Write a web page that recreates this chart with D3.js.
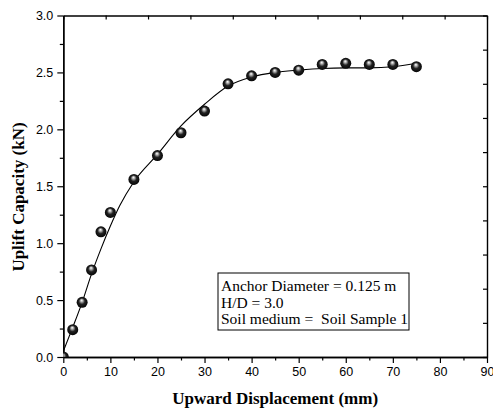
<!DOCTYPE html>
<html><head><meta charset="utf-8">
<script src="https://cdn.jsdelivr.net/npm/d3@7"></script>
<style>body{margin:0;background:#fff}svg{display:block}</style>
</head><body>
<svg id="c" width="493" height="412"></svg>
<script>
// measured data points
const dispX = [0, 2, 4, 6, 8, 10, 15, 20, 25, 30, 35, 40, 45, 50, 55, 60, 65, 70, 75];
const capY  = [0.00, 0.24, 0.48, 0.765, 1.10, 1.27, 1.56, 1.77, 1.97, 2.16, 2.40, 2.47, 2.50, 2.52, 2.57, 2.58, 2.57, 2.57, 2.55];
// fitted curve
const fitX = [0, 2, 4, 6, 8, 10, 12, 15, 20, 25, 30, 35, 40, 45, 50, 55, 60, 65, 70, 75];
const fitY = [0.05, 0.26, 0.48, 0.73, 0.95, 1.15, 1.33, 1.54, 1.78, 2.03, 2.22, 2.38, 2.46, 2.50, 2.52, 2.535, 2.54, 2.54, 2.55, 2.58];
const xTicks = [0, 10, 20, 30, 40, 50, 60, 70, 80, 90];
const yTicks = [0.0, 0.5, 1.0, 1.5, 2.0, 2.5, 3.0];
const legendLines = ["Anchor Diameter = 0.125 m", "H/D = 3.0", "Soil medium =  Soil Sample 1"];
const xTitle = "Upward Displacement (mm)";
const yTitle = "Uplift Capacity (kN)";

const svg = d3.select("#c");
const L = 63.3, R = 487, T = 15.5, B = 357;
const x = d3.scaleLinear().domain([0, 90]).range([L, R]);
const y = d3.scaleLinear().domain([0, 3]).range([B, T]);

const defs = svg.append("defs");
const g = defs.append("radialGradient").attr("id", "ball").attr("cx", "50%").attr("cy", "50%").attr("r", "55%")
  .attr("fx", "45%").attr("fy", "30%");
g.append("stop").attr("offset", "0%").attr("stop-color", "#ffffff");
g.append("stop").attr("offset", "18%").attr("stop-color", "#bdbdbd");
g.append("stop").attr("offset", "50%").attr("stop-color", "#222");
g.append("stop").attr("offset", "100%").attr("stop-color", "#000");
defs.append("clipPath").attr("id", "clip").append("rect")
  .attr("x", L).attr("y", T).attr("width", R - L).attr("height", B - T);

const tickFont = "'Liberation Sans', Arial, sans-serif";
const serif = "'Liberation Serif', 'Times New Roman', serif";

// bottom axis
const xAxis = d3.axisBottom(x).tickValues(xTicks).tickFormat(d3.format("d")).tickSizeOuter(0).tickSizeInner(6).tickPadding(4);
const gx = svg.append("g").attr("transform", `translate(0,${B})`).call(xAxis);
gx.selectAll("text").attr("font-family", tickFont).attr("font-size", 12.5).attr("fill", "#000");
const xMinor = d3.axisBottom(x).tickValues(d3.range(5, 90, 10)).tickFormat("").tickSizeOuter(0).tickSizeInner(3.5);
svg.append("g").attr("transform", `translate(0,${B})`).call(xMinor);

// left axis
const yAxis = d3.axisLeft(y).tickValues(yTicks).tickFormat(d3.format(".1f")).tickSizeOuter(0).tickSizeInner(6).tickPadding(4);
const gy = svg.append("g").attr("transform", `translate(${L},0)`).call(yAxis);
gy.selectAll("text").attr("font-family", tickFont).attr("font-size", 12.5).attr("fill", "#000");
const yMinor = d3.axisLeft(y).tickValues(d3.range(0.25, 3, 0.5)).tickFormat("").tickSizeOuter(0).tickSizeInner(3.5);
svg.append("g").attr("transform", `translate(${L},0)`).call(yMinor);

// top axis (inward ticks)
const xTop = d3.axisTop(x).tickValues(d3.range(0, 91, 9)).tickFormat("").tickSizeOuter(0).tickSizeInner(-4);
svg.append("g").attr("transform", `translate(0,${T})`).call(xTop);
// right axis (inward ticks)
const yRight = d3.axisRight(y).tickValues(d3.range(0, 3.01, 0.3)).tickFormat("").tickSizeOuter(0).tickSizeInner(-4);
svg.append("g").attr("transform", `translate(${R},0)`).call(yRight);

svg.selectAll(".domain").attr("stroke", "#000").attr("stroke-width", 1.4);
svg.selectAll(".tick line").attr("stroke", "#000").attr("stroke-width", 1.2);

// fitted curve
const line = d3.line().x(d => x(d[0])).y(d => y(d[1])).curve(d3.curveMonotoneX);
svg.append("path").datum(fitX.map((v, i) => [v, fitY[i]]))
  .attr("d", line).attr("fill", "none").attr("stroke", "#000").attr("stroke-width", 1.1)
  .attr("clip-path", "url(#clip)");

// points
svg.append("g").attr("clip-path", "url(#clip)").selectAll("circle")
  .data(dispX.map((v, i) => [v, capY[i]])).join("circle")
  .attr("cx", d => x(d[0])).attr("cy", d => y(d[1])).attr("r", 5.5)
  .attr("fill", "url(#ball)");

// legend box
const lg = svg.append("g");
lg.append("rect").attr("x", 218).attr("y", 273).attr("width", 191).attr("height", 57)
  .attr("fill", "#fff").attr("stroke", "#000").attr("stroke-width", 1);
lg.selectAll("text").data(legendLines).join("text")
  .attr("x", 221).attr("y", (d, i) => 291 + i * 16.5)
  .style("white-space", "pre")
  .attr("font-family", serif).attr("font-size", 15.5).attr("fill", "#000").text(d => d);

// axis titles
svg.append("text").attr("x", (L + R) / 2).attr("y", 404).attr("text-anchor", "middle")
  .attr("font-family", serif).attr("font-weight", "bold").attr("font-size", 17).text(xTitle);
svg.append("text").attr("transform", `translate(24,197) rotate(-90)`).attr("text-anchor", "middle")
  .attr("font-family", serif).attr("font-weight", "bold").attr("font-size", 17).text(yTitle);
</script>
</body></html>
